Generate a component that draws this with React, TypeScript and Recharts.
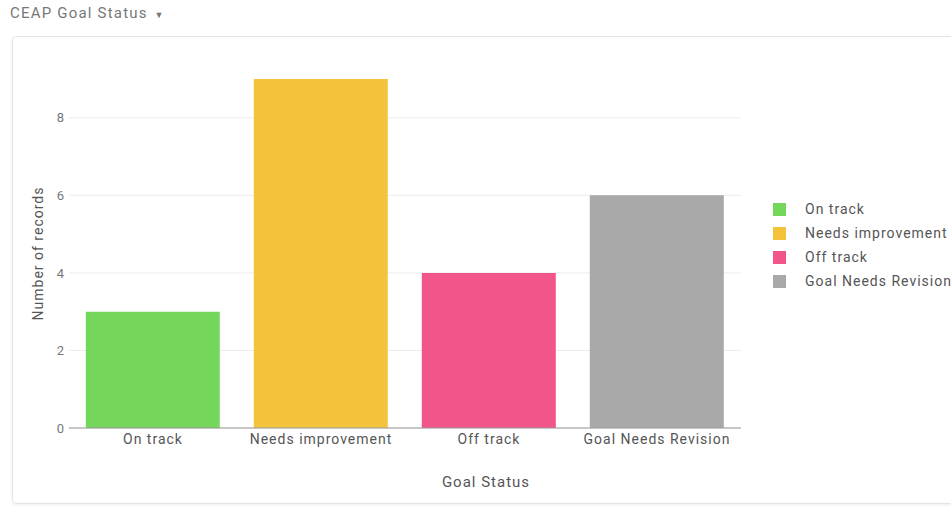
import { BarChart, Bar, XAxis, YAxis, CartesianGrid, Cell, Label } from "recharts";

const statuses = ["On track", "Needs improvement", "Off track", "Goal Needs Revision"];
const records = [3, 9, 4, 6];
const colors = ["#74d65b", "#f5c33b", "#f25589", "#a9a9a9"];
const yTicks = [0, 2, 4, 6, 8];

const data = statuses.map((s, i) => ({ status: s, count: records[i] }));

const font = "Roboto, 'Noto Sans', sans-serif";

function StatusLegend() {
  return (
    <div style={{ position: "absolute", left: 773, top: 197, fontFamily: font, fontSize: 14, letterSpacing: 1, color: "#555" }}>
      {statuses.map((s, i) => (
        <div key={s} style={{ display: "flex", alignItems: "center", height: 24 }}>
          <span style={{ width: 13, height: 13, background: colors[i], marginRight: 19, display: "inline-block" }} />
          <span style={{ whiteSpace: "nowrap" }}>{s}</span>
        </div>
      ))}
    </div>
  );
}

export default function App() {
  return (
    <div style={{ position: "fixed", left: 0, top: 0, width: 951, height: 507, background: "#fff", overflow: "hidden", fontFamily: font }}>
      <div style={{ position: "absolute", left: 10, top: 4, fontSize: 15, letterSpacing: 1.2, color: "#777" }}>
        CEAP Goal Status <span style={{ fontSize: 9, marginLeft: 2 }}>▼</span>
      </div>
      <div
        style={{
          position: "absolute",
          left: 12,
          top: 36,
          width: 960,
          height: 466,
          border: "1px solid #e4e4e4",
          borderRadius: 4,
          boxShadow: "0 1px 3px rgba(0,0,0,0.08)",
        }}
      />
      <div style={{ position: "absolute", left: 0, top: 0 }}>
        <BarChart
          width={951}
          height={507}
          data={data}
          margin={{ top: 79, right: 210, left: 29, bottom: 19 }}
          barCategoryGap="10%"
        >
          <CartesianGrid horizontal vertical={false} stroke="#ececec" syncWithTicks />
          <XAxis
            dataKey="status"
            height={60}
            tickLine={false}
            axisLine={{ stroke: "#999" }}
            tick={{ fontSize: 14, fill: "#555", fontFamily: font, letterSpacing: 1 }}
            tickMargin={0}
            interval={0}
          >
            <Label
              value="Goal Status"
              position="insideBottom"
              offset={1}
              dx={81}
              style={{ fontSize: 15, fill: "#555", fontFamily: font, letterSpacing: 1 }}
            />
          </XAxis>
          <YAxis
            width={40}
            domain={[0, 9]}
            ticks={yTicks}
            axisLine={false}
            tickLine={false}
            tickSize={0}
            tickMargin={5}
            tick={{ fontSize: 13, fill: "#777", fontFamily: font }}
          >
            <Label
              value="Number of records"
              angle={-90}
              position="insideLeft"
              offset={9}
              style={{ textAnchor: "middle", fontSize: 14, fill: "#555", fontFamily: font, letterSpacing: 1 }}
            />
          </YAxis>
          <Bar dataKey="count" isAnimationActive={false}>
            {data.map((d, i) => (
              <Cell key={d.status} fill={colors[i]} />
            ))}
          </Bar>
        </BarChart>
      </div>
      <StatusLegend />
    </div>
  );
}
